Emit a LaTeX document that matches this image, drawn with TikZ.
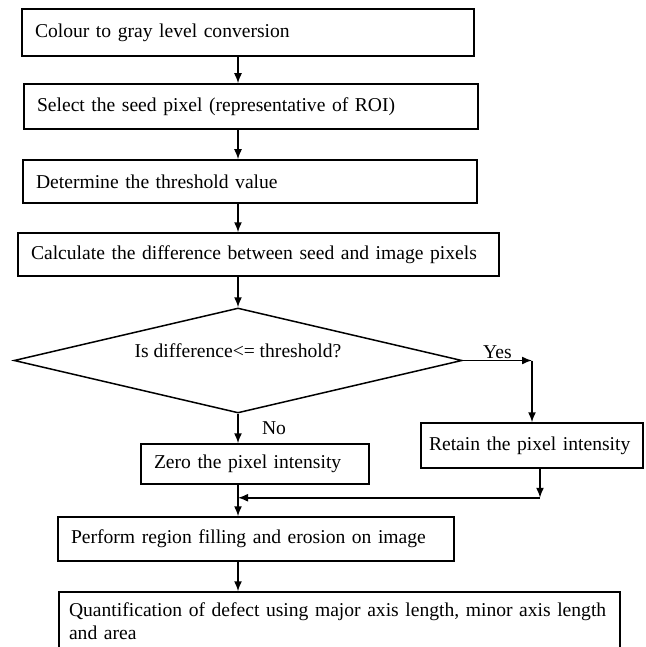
\documentclass[tikz,border=0pt]{standalone}
\usepackage{fontspec}
\setmainfont{Liberation Serif}
\usetikzlibrary{shapes.geometric,arrows.meta,positioning,calc}

\begin{document}
\begin{tikzpicture}[x=1pt,y=-1pt,->,>={Latex[length=10pt,width=8pt]},
line width=1.5pt, font=\fontsize{19.6}{23}\selectfont]
   \tikzstyle{stepbox}=[rectangle,draw=black,align=left,inner xsep=13pt,inner ysep=0pt]
   \tikzstyle{test}=[diamond,draw=black,inner sep=0pt]
\useasboundingbox (0,0) rectangle (645,647);
\node[stepbox, text width=426pt, minimum height=47pt] (conv) at (248,32.5)
  {Colour to gray level conversion};
  \node[stepbox, text width=428pt, minimum height=45pt] (seed) at (251,106.5)
  {Select the seed pixel (representative of ROI)};
  \node[stepbox, text width=428pt, minimum height=43pt] (thr) at (250,181.5)
  {Determine the threshold value};
  \node[stepbox, text width=455pt, minimum height=43pt] (diff) at (258.5,254.5)
  {Calculate the difference between seed and image pixels};
  \node[test, minimum width=448pt, minimum height=105pt,
  label={[yshift=10pt]center:Is difference<= threshold?}] (dec) at (238,360.5) {};
  \node[stepbox, text width=202pt, minimum height=40pt] (zero) at (255,464)
  {Zero the pixel intensity};
  \node[stepbox, text width=206pt, inner xsep=8pt, minimum height=45pt] (keep) at (532,445.5)
  {Retain the pixel intensity};
  \node[stepbox, text width=370pt, minimum height=44pt] (fill) at (256,539)
  {Perform region filling and erosion on image};
  \node[stepbox, text width=541pt, inner xsep=10pt, minimum height=58pt] (quant) at (339.5,621)
  {Quantification of defect using major axis length, minor axis length\\and area};

 \coordinate (yes) at (keep.north |- dec.east);
 \coordinate (back) at ($(keep.south)+(8,0)$);
 \coordinate (join) at ($(keep.south)+(8,29)$);

 \path  (conv.south -| dec.north) edge (seed.north -| dec.north)
        (seed.south -| dec.north) edge (thr.north -| dec.north)
        (thr.south -| dec.north) edge (diff.north -| dec.north)
        (diff.south -| dec.north) edge (dec.north)
        (dec.south) edge node [right=20pt] {No} (dec.south |- zero.north)
        (zero.south -| dec.south) edge (fill.north -| dec.south)
        (fill.south -| dec.south) edge (quant.north -| dec.south);
 \draw (dec.east) -- node [above, inner sep=1pt] {Yes} (yes);
 \draw (yes) -- (keep.north);
 \draw (back) -- (join);
 \draw (join) -- (join -| dec.south);
\end{tikzpicture}
\end{document}
